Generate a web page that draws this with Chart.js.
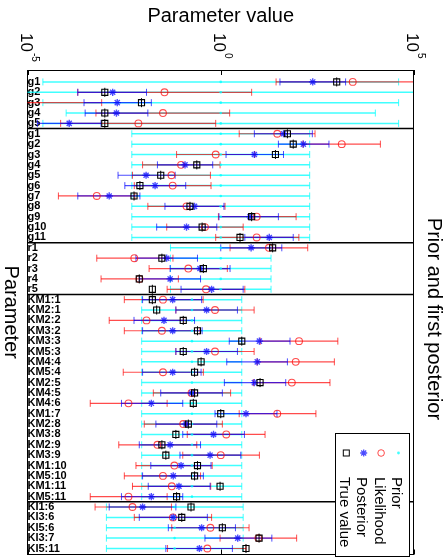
<!DOCTYPE html>
<html>
<head>
<meta charset="utf-8">
<title>Prior and first posterior</title>
<script src="https://cdn.jsdelivr.net/npm/chart.js@4.4.1/dist/chart.umd.min.js"></script>
<style>
  html, body { margin: 0; padding: 0; background: #fff; }
  #wrap { width: 447px; height: 560px; position: relative; }
</style>
</head>
<body>
<div id="wrap"><canvas id="paramChart"></canvas></div>
<script>
// parameter names, top to bottom
var params = ['g1','g2','g3','g4','g5',
    'g1','g2','g3','g4','g5','g6','g7','g8','g9','g10','g11',
    'r1','r2','r3','r4','r5',
    'KM1:1','KM2:1','KM2:2','KM3:2','KM3:3','KM5:3','KM4:4','KM5:4','KM2:5','KM4:5',
    'KM4:6','KM1:7','KM2:8','KM3:8','KM2:9','KM3:9','KM1:10','KM5:10','KM1:11','KM5:11',
    'KI1:6','KI3:6','KI5:6','KI3:7','KI5:11'];
// rows in each block, blocks are split by a black line
var groupSizes = [5, 11, 5, 20, 5];

var priorLo = [2.5e-5, 1e-6, 2.5e-5, 1e-4, 2.5e-5,
    5e-3, 5e-3, 5e-3, 5e-3, 5e-3, 5e-3, 5e-3, 5e-3, 5e-3, 5e-3, 5e-3,
    0.05, 0.05, 0.05, 0.05, 0.05,
    9e-3, 9e-3, 9e-3, 9e-3, 9e-3, 9e-3, 9e-3, 9e-3, 9e-3, 9e-3,
    9e-3, 9e-3, 9e-3, 9e-3, 9e-3, 9e-3, 9e-3, 9e-3, 9e-3, 9e-3,
    1.1e-3, 1.1e-3, 1.1e-3, 1.1e-3, 1.1e-3];
var priorMid = [1, 1, 1, 1, 1,
    1, 1, 1, 1, 1, 1, 1, 1, 1, 1, 1,
    1, 1, 1, 1, 1,
    0.18, 0.18, 0.18, 0.18, 0.18, 0.18, 0.18, 0.18, 0.18, 0.18,
    0.18, 0.18, 0.18, 0.18, 0.18, 0.18, 0.18, 0.18, 0.18, 0.18,
    0.064, 0.064, 0.064, 0.064, 0.064];
var priorHi = [4e4, 1e6, 4e4, 1e4, 4e4,
    200, 200, 200, 200, 200, 200, 200, 200, 200, 200, 200,
    20, 20, 20, 20, 20,
    3.5, 3.5, 3.5, 3.5, 3.5, 3.5, 3.5, 3.5, 3.5, 3.5,
    3.5, 3.5, 3.5, 3.5, 3.5, 3.5, 3.5, 3.5, 3.5, 3.5,
    3.8, 3.8, 3.8, 3.8, 3.8];

var likLo = [27, 2.0e-4, 1.7e-8, 5.9e-4, 7.2e-5,
    3.0, 134, 0.072, 9.5e-3, 5.2e-3, 5.8e-3, 6.3e-5, 0.013, 0.87, 0.040, 0.74,
    1.74, 6.2e-4, 0.014, 8.0e-4, 0.041,
    3.2e-3, 0.069, 1.3e-3, 3.2e-3, 10.5, 0.069, 8.7, 3.0e-3, 7.0, 0.018,
    4.2e-4, 3.0, 0.0105, 0.136, 2.3e-3, 0.104, 6.4e-3, 3.2e-3, 5.2e-3, 4.2e-4,
    5.6e-4, 5.8e-3, 0.054, 0.96, 0.042];
var likMid = [2.6e3, 0.035, 3.5e-6, 0.032, 7.4e-3,
    29, 1.35e3, 0.74, 0.094, 0.053, 0.057, 6.2e-4, 0.13, 8.5, 0.39, 8.5,
    17.7, 5.8e-3, 0.145, 7.9e-3, 0.415,
    0.032, 0.71, 0.012, 0.030, 106, 0.71, 87, 0.032, 69, 0.175,
    4.1e-3, 29, 0.107, 1.39, 0.023, 1.0, 0.063, 0.032, 0.054, 4.1e-3,
    5.2e-3, 0.058, 0.54, 9.4, 0.45];
var likHi = [2.5e5, 6.3, 8.3e-4, 1.7, 0.74,
    275, 1.35e4, 7.6, 0.96, 0.54, 0.56, 6.0e-3, 1.29, 89, 3.8, 105,
    178, 0.058, 1.48, 0.080, 4.2,
    0.35, 7.3, 0.11, 0.29, 1.07e3, 7.3, 870, 0.355, 670, 1.8,
    0.041, 290, 1.1, 14, 0.24, 10, 0.60, 0.30, 0.55, 0.041,
    0.053, 0.58, 5.4, 92, 4.5];

var postLo = [34, 2.0e-4, 2.9e-4, 3.1e-4, 1.8e-5,
    7.4, 31, 1.37, 0.023, 2.2e-3, 3.3e-3, 2.0e-4, 0.036, 0.90, 0.022, 4.2,
    1.0, 6.4e-3, 0.049, 7.8e-3, 0.094,
    9.5e-3, 0.069, 5.7e-3, 9.5e-3, 1.66, 0.069, 1.43, 9.5e-3, 1.24, 0.028,
    2.7e-3, 0.71, 0.021, 0.104, 7.8e-3, 0.088, 0.0155, 9.5e-3, 0.0133, 2.7e-3,
    1.3e-3, 7.8e-3, 0.044, 0.39, 0.038];
var postMid = [240, 1.6e-3, 2.1e-3, 2.0e-3, 1.2e-4,
    42, 137, 7.4, 0.119, 0.0117, 0.020, 1.3e-3, 0.21, 5.7, 0.13, 18,
    6.1, 0.040, 0.29, 0.049, 0.58,
    0.057, 0.43, 0.034, 0.057, 10, 0.43, 8.8, 0.057, 7.4, 0.177,
    0.016, 4.5, 0.126, 0.65, 0.049, 0.53, 0.094, 0.059, 0.083, 0.016,
    9.5e-3, 0.059, 0.32, 2.75, 0.28];
var postHi = [1.7e3, 0.012, 0.016, 0.013, 8.0e-4,
    234, 630, 42, 0.62, 0.066, 0.124, 8.1e-3, 1.21, 31, 0.79, 75,
    38, 0.25, 1.74, 0.30, 3.8,
    0.32, 2.7, 0.21, 0.33, 62, 2.7, 53, 0.31, 48, 1.1,
    0.104, 28.5, 0.79, 4.1, 0.30, 3.3, 0.56, 0.355, 0.53, 0.104,
    0.069, 0.45, 2.4, 21, 2.0];

var trueVal = [1.0e3, 1.0e-3, 8.9e-3, 1.0e-3, 1.0e-3,
    53, 75, 26, 0.24, 0.028, 8.1e-3, 5.7e-3, 0.16, 6.3, 0.33, 3.15,
    22, 0.030, 0.355, 7.8e-3, 0.017,
    0.017, 0.022, 0.107, 0.25, 3.5, 0.107, 0.31, 0.21, 10.4, 0.21,
    0.195, 1.0, 0.145, 0.069, 0.030, 0.038, 0.25, 0.21, 0.96, 0.072,
    0.17, 0.098, 1.1, 9.8, 4.5];

var tickPowers = [-5, 0, 5];
var legendLabels = ['Prior', 'Likelihood', 'Posterior', 'True value'];

var FONT = '"Liberation Sans", Arial, Helvetica, sans-serif';
var CYAN = 'rgba(0,255,255,0.75)';
var RED = 'rgba(255,0,0,0.7)';
var BLUE = 'rgba(0,0,255,0.7)';

function errorBarData(lo, hi) {
    var pts = [];
    for (var i = 0; i < params.length; i++) {
        pts.push({x: lo[i], y: i});
        pts.push({x: hi[i], y: i});
        pts.push({x: null, y: null});
    }
    return pts;
}

function markerData(vals) {
    return vals.map(function (v, i) { return {x: v, y: i}; });
}

function separatorData() {
    var pts = [];
    var row = 0;
    for (var g = 0; g < groupSizes.length - 1; g++) {
        row += groupSizes[g];
        pts.push({x: 1e-6, y: row - 0.5});
        pts.push({x: 1e6, y: row - 0.5});
        pts.push({x: null, y: null});
    }
    return pts;
}

function errorBarSet(label, lo, hi, color, width) {
    return {
        label: label,
        data: errorBarData(lo, hi),
        showLine: true,
        spanGaps: false,
        borderColor: color,
        borderWidth: width,
        pointStyle: 'line',
        pointRotation: 90,
        pointRadius: 3.5,
        pointHoverRadius: 3.5,
        pointBorderColor: color,
        pointBorderWidth: 1,
        clip: 0
    };
}

function markerSet(label, vals, style, radius, color, width, fill, rot) {
    return {
        label: label,
        data: markerData(vals),
        showLine: false,
        pointStyle: style,
        pointRotation: rot || 0,
        pointRadius: radius,
        pointHoverRadius: radius,
        pointBorderColor: color,
        pointBackgroundColor: fill || 'rgba(0,0,0,0)',
        pointBorderWidth: width,
        clip: 0
    };
}

function rotatedText(ctx, text, x, y, size, align) {
    ctx.save();
    ctx.translate(x, y);
    ctx.rotate(Math.PI / 2);
    ctx.font = size + 'px ' + FONT;
    ctx.textAlign = align;
    ctx.textBaseline = 'alphabetic';
    ctx.fillText(text, 0, 0);
    ctx.restore();
}

var frameAndLabels = {
    id: 'frameAndLabels',
    afterDraw: function (chart) {
        var ctx = chart.ctx;
        var a = chart.chartArea;
        var xs = chart.scales.x;
        ctx.save();
        ctx.strokeStyle = '#000';
        ctx.fillStyle = '#000';
        ctx.lineWidth = 1;

        // right and bottom of the box
        ctx.beginPath();
        ctx.moveTo(Math.round(a.right) - 0.5, a.top);
        ctx.lineTo(Math.round(a.right) - 0.5, a.bottom);
        ctx.moveTo(a.left, Math.round(a.bottom) - 0.5);
        ctx.lineTo(a.right, Math.round(a.bottom) - 0.5);
        ctx.stroke();

        // inward tick marks + rotated 10^n labels
        tickPowers.forEach(function (p) {
            var px = Math.round(xs.getPixelForValue(Math.pow(10, p))) + 0.5;
            ctx.beginPath();
            ctx.moveTo(px, a.top);
            ctx.lineTo(px, a.top + 5);
            ctx.moveTo(px, a.bottom);
            ctx.lineTo(px, a.bottom - 5);
            ctx.stroke();

            ctx.save();
            ctx.translate(px, 33);
            ctx.rotate(Math.PI / 2);
            ctx.textAlign = 'left';
            ctx.textBaseline = 'alphabetic';
            ctx.font = '17px ' + FONT;
            ctx.fillText('10', 0, 8);
            var w = ctx.measureText('10').width;
            ctx.font = '10px ' + FONT;
            ctx.fillText(String(p), w + 1, -3);
            ctx.restore();
        });

        rotatedText(ctx, 'Parameter', 5, (a.top + a.bottom) / 2, 20, 'center');
        rotatedText(ctx, 'Prior and first posterior', 428, 319, 20, 'center');

        // legend box
        var lx = 335, ly = 433, lw = 74, lh = 123;
        ctx.fillStyle = '#fff';
        ctx.fillRect(lx, ly, lw, lh);
        ctx.strokeStyle = '#000';
        ctx.strokeRect(lx + 0.5, ly + 0.5, lw, lh);

        legendLabels.forEach(function (txt, k) {
            var base = 392 - 17.4 * k;
            var mx = base + 6.5, my = 453;
            ctx.save();
            ctx.lineWidth = 1;
            if (k === 0) {
                ctx.fillStyle = CYAN;
                ctx.beginPath();
                ctx.arc(mx, my, 1.4, 0, Math.PI * 2);
                ctx.fill();
            } else if (k === 1) {
                ctx.strokeStyle = RED;
                ctx.beginPath();
                ctx.arc(mx, my, 3.3, 0, Math.PI * 2);
                ctx.stroke();
            } else if (k === 2) {
                ctx.strokeStyle = BLUE;
                ctx.lineWidth = 1.3;
                ctx.beginPath();
                for (var j = 0; j < 4; j++) {
                    var ang = j * Math.PI / 4;
                    ctx.moveTo(mx - Math.cos(ang) * 3.5, my - Math.sin(ang) * 3.5);
                    ctx.lineTo(mx + Math.cos(ang) * 3.5, my + Math.sin(ang) * 3.5);
                }
                ctx.stroke();
            } else {
                ctx.strokeStyle = '#000';
                ctx.strokeRect(mx - 3, my - 3, 6, 6);
            }
            ctx.restore();
            ctx.fillStyle = '#000';
            rotatedText(ctx, txt, base, 477, 15, 'left');
        });
        ctx.restore();
    }
};

function noPadding(scale) {
    scale.paddingTop = 0;
    scale.paddingBottom = 0;
    scale.paddingLeft = 0;
    scale.paddingRight = 0;
}

var chart = new Chart(document.getElementById('paramChart'), {
    type: 'scatter',
    data: {
        datasets: [
            markerSet('True value line', trueVal, 'line', 4.5, '#000', 1, null, 90),
            markerSet('True value', trueVal, 'rect', 4.3, '#000', 1.1),
            markerSet('Posterior', postMid, 'star', 3.6, BLUE, 1.4),
            markerSet('Likelihood', likMid, 'circle', 3.4, RED, 1.1),
            markerSet('Prior', priorMid, 'circle', 1.3, CYAN, 0, CYAN),
            {
                label: 'blocks',
                data: separatorData(),
                showLine: true,
                spanGaps: false,
                borderColor: '#000',
                borderWidth: 1.5,
                pointRadius: 0,
                clip: 0
            },
            errorBarSet('Posterior range', postLo, postHi, BLUE, 1.2),
            errorBarSet('Likelihood range', likLo, likHi, RED, 1.2),
            errorBarSet('Prior range', priorLo, priorHi, CYAN, 1.5)
        ]
    },
    options: {
        responsive: true,
        maintainAspectRatio: false,
        animation: false,
        events: [],
        layout: { padding: { left: 27.5, right: 33, top: 0, bottom: 3 } },
        scales: {
            x: {
                type: 'logarithmic',
                position: 'top',
                min: 1e-5,
                max: 1e5,
                afterFit: noPadding,
                ticks: { display: false },
                grid: { display: false, drawTicks: false },
                border: { display: true, color: '#000', width: 1 }
            },
            y: {
                type: 'linear',
                reverse: true,
                bounds: 'data',
                min: -1.15,
                max: 45.58,
                z: 1,
                afterBuildTicks: function (scale) {
                    scale.ticks = params.map(function (p, i) { return {value: i}; });
                },
                afterFit: noPadding,
                ticks: {
                    mirror: true,
                    padding: 0,
                    autoSkip: false,
                    color: '#000',
                    font: { family: FONT, size: 11, weight: 'bold' },
                    callback: function (v) { return params[v]; }
                },
                grid: { display: false, drawTicks: false },
                border: { display: true, color: '#000', width: 1 }
            }
        },
        plugins: {
            legend: { display: false },
            tooltip: { enabled: false },
            title: {
                display: true,
                text: 'Parameter value',
                fullSize: false,
                color: '#000',
                font: { family: FONT, size: 20, weight: 'normal' },
                padding: { top: 4, bottom: 42 }
            }
        }
    },
    plugins: [frameAndLabels]
});
</script>
</body>
</html>
